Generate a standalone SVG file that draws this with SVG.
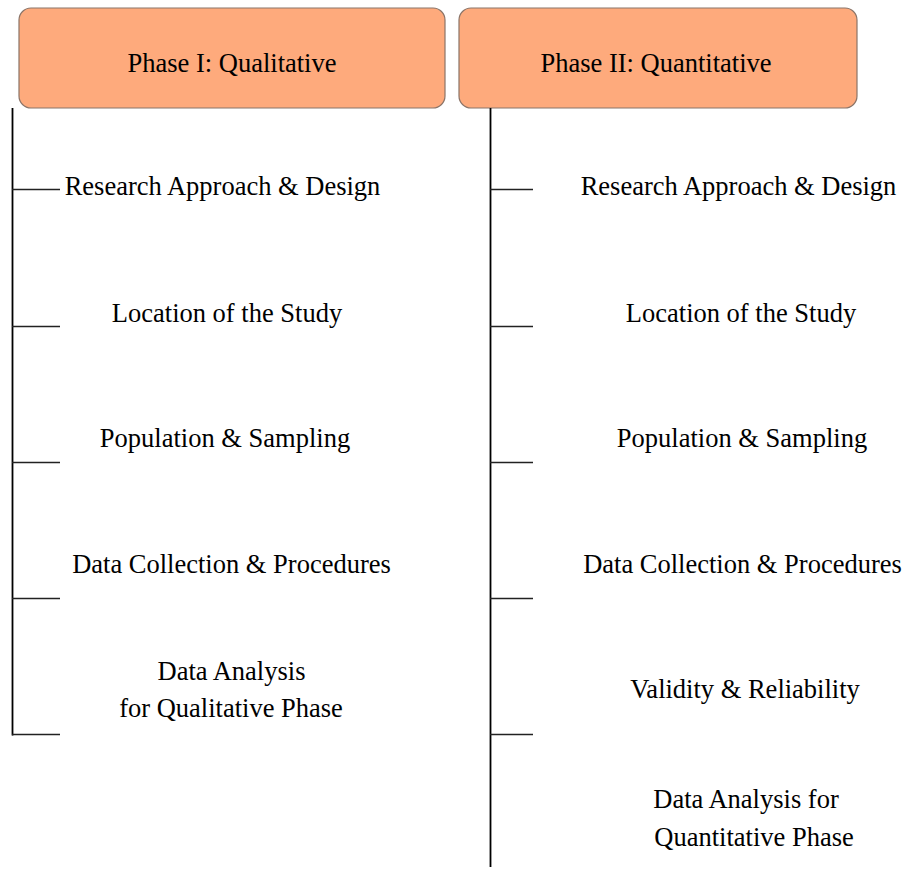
<svg xmlns="http://www.w3.org/2000/svg" width="908" height="869" viewBox="0 0 908 869">
<style>
.box{fill:#FEAA7C;stroke:#8A7468;stroke-width:1.2}
.t{font-size:26.5px;fill:#000}
.v{stroke:#000;stroke-width:1.8;fill:none}
.h{stroke:#222;stroke-width:1.3;fill:none}
</style>
<rect width="908" height="869" fill="#fff"/>
<g id="phase1">
<rect class="box" x="19" y="8" width="426" height="100" rx="12"/>
</g>
<g id="phase2">
<rect class="box" x="459" y="8" width="398" height="100" rx="12"/>
</g>
<g id="connectors">
<line class="v" x1="12.5" y1="108" x2="12.5" y2="735.5"/>
<line class="h" x1="12" y1="189.5" x2="60" y2="189.5"/>
<line class="h" x1="12" y1="326.5" x2="60" y2="326.5"/>
<line class="h" x1="12" y1="462.5" x2="60" y2="462.5"/>
<line class="h" x1="12" y1="598.5" x2="60" y2="598.5"/>
<line class="h" x1="12" y1="734.5" x2="60" y2="734.5"/>
<line class="v" x1="490.5" y1="108" x2="490.5" y2="867"/>
<line class="h" x1="490" y1="189.5" x2="533" y2="189.5"/>
<line class="h" x1="490" y1="326.5" x2="533" y2="326.5"/>
<line class="h" x1="490" y1="462.5" x2="533" y2="462.5"/>
<line class="h" x1="490" y1="598.5" x2="533" y2="598.5"/>
<line class="h" x1="490" y1="734.5" x2="533" y2="734.5"/>
</g>
<g font-family="'Liberation Serif', Tinos, 'Times New Roman', 'DejaVu Serif', serif">
<g id="phase1-label"><text class="t" x="232" y="72" text-anchor="middle">Phase I: Qualitative</text></g>
<g id="phase2-label"><text class="t" x="656" y="72" text-anchor="middle">Phase II: Quantitative</text></g>
<g id="q1"><text class="t" x="222.5" y="195" text-anchor="middle">Research Approach &amp; Design</text></g>
<g id="q2"><text class="t" x="227" y="322" text-anchor="middle">Location of the Study</text></g>
<g id="q3"><text class="t" x="225" y="447" text-anchor="middle">Population &amp; Sampling</text></g>
<g id="q4"><text class="t" x="231.5" y="573" text-anchor="middle">Data Collection &amp; Procedures</text></g>
<g id="q5"><text class="t" x="231.5" y="680" text-anchor="middle">Data Analysis</text><text class="t" x="231" y="717" text-anchor="middle">for Qualitative Phase</text></g>
<g id="n1"><text class="t" x="738.5" y="195" text-anchor="middle">Research Approach &amp; Design</text></g>
<g id="n2"><text class="t" x="741" y="322" text-anchor="middle">Location of the Study</text></g>
<g id="n3"><text class="t" x="742" y="447" text-anchor="middle">Population &amp; Sampling</text></g>
<g id="n4"><text class="t" x="742.5" y="573" text-anchor="middle">Data Collection &amp; Procedures</text></g>
<g id="n5"><text class="t" x="745" y="698" text-anchor="middle">Validity &amp; Reliability</text></g>
<g id="n6"><text class="t" x="746" y="808" text-anchor="middle">Data Analysis for</text><text class="t" x="754" y="846" text-anchor="middle">Quantitative Phase</text></g>
</g>
</svg>
